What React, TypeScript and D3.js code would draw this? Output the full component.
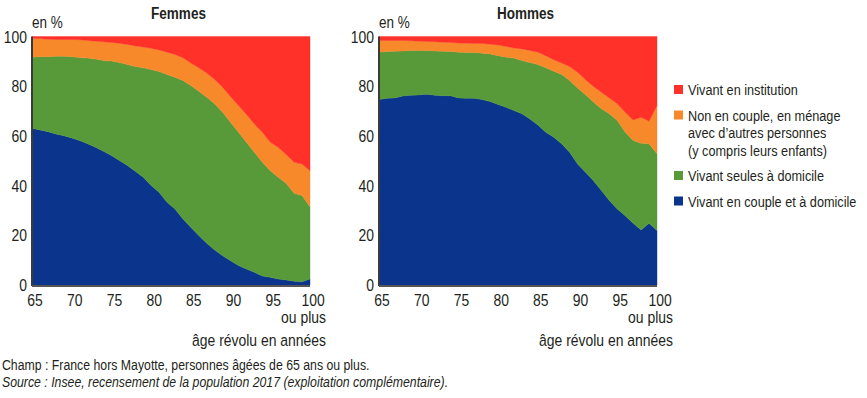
import React from "react";
import * as d3 from "d3";

// ages 65 .. 100 ("100 ou plus")
const ages = d3.range(65, 101);

// Femmes, en %
const femmesCouple = [63.1, 62.4, 61.7, 60.8, 60.1, 59.2, 58.1, 56.8, 55.4, 53.8, 52.1, 50.1, 48.1, 45.8, 43.4, 40.0, 37.3, 33.3, 30.6, 26.6, 23.2, 19.9, 16.8, 14.1, 11.8, 9.8, 7.8, 6.4, 5.1, 3.6, 3.1, 2.4, 2.0, 1.5, 1.3, 2.4];
const femmesSeules = [28.6, 29.5, 30.2, 31.3, 32.0, 32.7, 33.4, 34.5, 35.5, 36.5, 38.0, 39.4, 40.6, 42.1, 44.0, 46.7, 48.6, 51.4, 53.0, 55.7, 57.1, 58.1, 58.8, 58.8, 57.7, 55.7, 53.7, 51.0, 48.3, 45.8, 42.9, 41.0, 38.9, 35.4, 34.7, 29.1];
const femmesMenage = [7.6, 7.3, 7.0, 6.7, 6.7, 6.9, 7.2, 7.1, 7.2, 7.6, 7.5, 7.8, 8.1, 8.3, 8.4, 8.6, 8.7, 9.0, 9.2, 9.1, 9.0, 9.4, 9.7, 9.8, 10.1, 10.3, 10.7, 11.2, 11.4, 12.1, 11.4, 12.0, 11.6, 12.5, 12.7, 14.5];
const femmesInstitution = [0.7, 0.8, 1.1, 1.2, 1.2, 1.2, 1.3, 1.6, 1.9, 2.1, 2.4, 2.7, 3.2, 3.8, 4.2, 4.7, 5.4, 6.3, 7.2, 8.6, 10.7, 12.6, 14.7, 17.3, 20.4, 24.2, 27.8, 31.4, 35.2, 38.5, 42.6, 44.6, 47.5, 50.6, 51.3, 54.0];

// Hommes, en %
const hommesCouple = [74.6, 75.2, 75.3, 76.1, 76.4, 76.5, 76.8, 76.4, 76.2, 76.2, 75.3, 75.2, 75.2, 74.6, 73.8, 72.6, 71.5, 70.2, 68.9, 66.8, 64.4, 61.5, 59.5, 56.8, 53.4, 48.7, 45.4, 42.0, 38.0, 34.0, 30.6, 27.9, 24.8, 22.1, 24.8, 21.9];
const hommesSeules = [19.1, 18.8, 18.8, 18.1, 18.0, 17.9, 17.6, 17.8, 17.9, 17.8, 18.4, 18.4, 18.4, 18.7, 19.2, 19.7, 20.2, 21.1, 21.4, 22.7, 24.3, 25.9, 26.5, 27.9, 28.9, 30.6, 31.2, 31.6, 32.9, 34.9, 35.6, 33.6, 33.3, 34.9, 32.0, 30.9];
const hommesMenage = [4.7, 4.4, 4.3, 4.2, 3.9, 3.7, 3.6, 3.7, 3.6, 3.6, 3.7, 3.7, 3.6, 3.9, 3.9, 4.3, 4.3, 4.1, 4.7, 4.9, 5.0, 4.9, 4.6, 4.6, 5.6, 6.3, 6.0, 6.3, 6.7, 6.4, 6.7, 8.0, 8.3, 10.5, 9.1, 19.4];
const hommesInstitution = [1.6, 1.6, 1.6, 1.6, 1.7, 1.9, 2.0, 2.1, 2.3, 2.4, 2.6, 2.7, 2.8, 2.8, 3.1, 3.4, 4.0, 4.6, 5.0, 5.6, 6.3, 7.7, 9.4, 10.7, 12.1, 14.4, 17.4, 20.1, 22.4, 24.7, 27.1, 30.5, 33.6, 32.5, 34.1, 27.8];

const keys = ["couple", "seules", "menage", "institution"];
const colors = { couple: "#0b358c", seules: "#589a39", menage: "#f7892b", institution: "#ff3129" };
const xTicks = [65, 70, 75, 80, 85, 90, 95, 100];
const yTicks = [0, 20, 40, 60, 80, 100];

const legendItems = [
  { key: "institution", lines: ["Vivant en institution"] },
  { key: "menage", lines: ["Non en couple, en ménage", "avec d’autres personnes", "(y compris leurs enfants)"] },
  { key: "seules", lines: ["Vivant seules à domicile"] },
  { key: "couple", lines: ["Vivant en couple et à domicile"] },
];

const font = "'Liberation Sans', Arial, sans-serif";
const textColor = "#231f20";

// narrow text: Liberation Sans squeezed like Arial Narrow
const T = ({ x, y, size, anchor = "start", children, ...rest }) => (
  <text
    transform={`translate(${x},${y}) scale(0.82,1)`}
    textAnchor={anchor}
    fontSize={size}
    fill={textColor}
    {...rest}
  >
    {children}
  </text>
);

const makeRows = (couple, seules, menage, institution) =>
  ages.map((age, i) => ({ age, couple: couple[i], seules: seules[i], menage: menage[i], institution: institution[i] }));

const Panel = ({ title, rows, left }) => {
  const width = 278;
  const top = 36.5, bottom = 285;
  const x = d3.scaleLinear().domain([65, 100]).range([left, left + width]);
  const y = d3.scaleLinear().domain([0, 100]).range([bottom, top]);
  const series = d3.stack().keys(keys)(rows);
  const area = d3.area()
    .x(d => x(d.data.age))
    .y0(d => y(d[0]))
    .y1(d => y(d[1]));

  return (
    <g>
      {series.map(s => (
        <path key={s.key} d={area(s)} fill={colors[s.key]} stroke={colors[s.key]} strokeWidth={0.4} />
      ))}
      <line x1={left} x2={left} y1={top} y2={bottom + 1} stroke="#3a3a3a" strokeWidth={2} />
      <line x1={left} x2={left + width} y1={bottom + 1} y2={bottom + 1} stroke="#555" strokeWidth={2} />
      <T x={left + width / 2 + 7.5} y={19} size={16.5} anchor="middle" fontWeight="bold">{title}</T>
      <T x={left} y={28} size={16.5}>en %</T>
      {yTicks.map(t => (
        <T key={t} x={left - 5} y={y(t) + 6} size={17} anchor="end">{t}</T>
      ))}
      {xTicks.map(t => (
        <T key={t} x={x(t) + 3} y={306} size={17} anchor="middle">{t}</T>
      ))}
      <T x={left + width + 16} y={323} size={17} anchor="end">ou plus</T>
      <T x={left + width + 16} y={346} size={17} anchor="end">âge révolu en années</T>
    </g>
  );
};

export default function App() {
  const femmes = makeRows(femmesCouple, femmesSeules, femmesMenage, femmesInstitution);
  const hommes = makeRows(hommesCouple, hommesSeules, hommesMenage, hommesInstitution);
  let ly = 85;
  return (
    <svg width={867} height={398} style={{ position: "absolute", left: 0, top: 0, fontFamily: font }}>
      <rect width={867} height={398} fill="#fff" />
      <Panel title="Femmes" rows={femmes} left={32} />
      <Panel title="Hommes" rows={hommes} left={379} />
      {legendItems.map(item => {
        const y0 = ly;
        ly += item.lines.length * 17.5 + 8;
        return (
          <g key={item.key}>
            <rect x={674} y={y0} width={9} height={9} fill={colors[item.key]} />
            {item.lines.map((l, i) => (
              <T key={i} x={688} y={y0 + 10 + i * 17.5} size={15.5}>{l}</T>
            ))}
          </g>
        );
      })}
      <T x={2} y={370} size={15}>Champ : France hors Mayotte, personnes âgées de 65 ans ou plus.</T>
      <T x={2} y={387} size={15} fontStyle="italic">Source : Insee, recensement de la population 2017 (exploitation complémentaire).</T>
    </svg>
  );
}
